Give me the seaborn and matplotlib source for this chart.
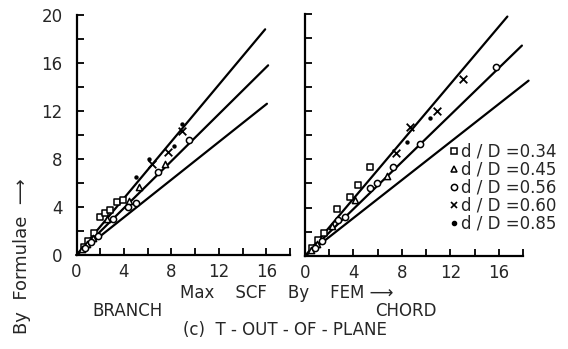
import numpy as np
import pandas as pd
import matplotlib
matplotlib.use("Agg")
import matplotlib.pyplot as plt
from matplotlib.lines import Line2D
import seaborn as sns

# series labels (d/D) and marker glyphs
ratios = ["0.34", "0.45", "0.56", "0.60", "0.85"]
markers = ["s", "^", "o", "x", "."]

# BRANCH panel: (Max SCF by FEM, by formulae)
branch_x = {
    "0.34": [0.6, 1.0, 1.5, 2.0, 2.4, 2.8, 3.4, 3.9],
    "0.45": [0.5, 0.9, 1.4, 2.6, 4.4, 5.3, 7.5],
    "0.56": [0.7, 1.2, 1.8, 3.1, 4.3, 5.0, 6.9, 9.5],
    "0.60": [6.4, 7.7, 8.9],
    "0.85": [5.0, 6.1, 8.2, 8.9],
}
branch_y = {
    "0.34": [0.7, 1.2, 1.8, 3.2, 3.5, 3.75, 4.4, 4.6],
    "0.45": [0.5, 0.9, 1.4, 3.0, 4.5, 5.7, 7.6],
    "0.56": [0.6, 1.1, 1.6, 3.0, 4.0, 4.3, 6.9, 9.6],
    "0.60": [7.6, 8.6, 10.3],
    "0.85": [6.5, 8.0, 9.1, 10.9],
}

# CHORD panel
chord_x = {
    "0.34": [0.6, 1.1, 1.6, 2.6, 3.7, 4.4, 5.4],
    "0.45": [0.5, 1.0, 2.2, 4.1, 6.75],
    "0.56": [0.8, 1.4, 2.75, 3.3, 5.4, 5.9, 7.3, 9.45, 15.8],
    "0.60": [7.5, 8.7, 10.9, 13.0],
    "0.85": [8.4, 10.3],
}
chord_y = {
    "0.34": [0.7, 1.3, 1.9, 3.9, 4.9, 5.9, 7.4],
    "0.45": [0.5, 1.0, 2.5, 4.6, 6.6],
    "0.56": [0.7, 1.2, 3.0, 3.25, 5.6, 6.0, 7.4, 9.3, 15.6],
    "0.60": [8.5, 10.7, 12.0, 14.6],
    "0.85": [9.45, 11.4],
}

# reference lines from origin (+20%, exact, -20%): end points
branch_line_x = [15.9, 16.15, 16.05]
branch_line_y = [18.8, 15.8, 12.6]
chord_line_x = [16.7, 17.9, 18.45]
chord_line_y = [19.8, 17.4, 14.5]

sns.set_theme(style="ticks")
plt.rcParams["font.family"] = ["DejaVu Sans"]

fig = plt.figure(figsize=(5.68, 3.49), dpi=100)
ax1 = fig.add_axes([0.1347, 0.2693, 0.376, 0.688])
ax2 = fig.add_axes([0.537, 0.2665, 0.384, 0.693])


def draw_panel(ax, xs, ys, lx, ly, show_ylabels):
    for xe, ye in zip(lx, ly):
        d = pd.DataFrame({"x": [0, xe], "y": [0, ye]})
        sns.lineplot(data=d, x="x", y="y", ax=ax, color="black", lw=1.6,
                     clip_on=False)
    for r, m in zip(ratios, markers):
        d = pd.DataFrame({"x": xs[r], "y": ys[r]})
        if m == "x":
            sns.scatterplot(data=d, x="x", y="y", ax=ax, marker="x", s=30,
                            color="black", linewidth=1.3, zorder=3)
        elif m == ".":
            sns.scatterplot(data=d, x="x", y="y", ax=ax, marker="o", s=10,
                            color="black", linewidth=0, zorder=3)
        else:
            sns.scatterplot(data=d, x="x", y="y", ax=ax, marker=m, s=20,
                            facecolor="white", edgecolor="black",
                            linewidth=1.1, zorder=3)
    ax.set_xlim(0, 18)
    ax.set_ylim(0, 20)
    ax.set_xticks([0, 4, 8, 12, 16])
    ax.set_xticks([2, 6, 10, 14, 18], minor=True)
    ax.set_yticks([0, 4, 8, 12, 16, 20])
    ax.set_yticks([2, 6, 10, 14, 18], minor=True)
    ax.tick_params(which="both", direction="in", length=5, width=1.3,
                   color="black", labelsize=12)
    ax.tick_params(axis="x", pad=6)
    ax.tick_params(axis="y", pad=10)
    if not show_ylabels:
        ax.set_yticklabels([])
    ax.set_xlabel("")
    ax.set_ylabel("")
    sns.despine(ax=ax)
    for s in ["left", "bottom"]:
        ax.spines[s].set_linewidth(1.6)
        ax.spines[s].set_color("black")


draw_panel(ax1, branch_x, branch_y, branch_line_x, branch_line_y, True)
draw_panel(ax2, chord_x, chord_y, chord_line_x, chord_line_y, False)

# legend
handles = []
for r, m in zip(ratios, markers):
    if m == "x":
        h = Line2D([], [], ls="", marker="x", ms=5, color="black", mew=1.2)
    elif m == ".":
        h = Line2D([], [], ls="", marker="o", ms=3, color="black")
    else:
        h = Line2D([], [], ls="", marker=m, ms=4.5, mfc="white",
                   mec="black", mew=1.1)
    handles.append(h)
labels = ["d / D =" + r for r in ratios]
fig.legend(handles, labels, loc="upper left", bbox_to_anchor=(0.792, 0.592),
           frameon=False, fontsize=12, handlelength=0.5, handletextpad=0.15,
           labelspacing=0.0, borderpad=0, borderaxespad=0)

# texts
fig.text(0.505, 1 - 293 / 349, "Max    SCF    By    FEM \u27f6", ha="center",
         va="center", fontsize=12)
fig.text(127 / 568, 1 - 311 / 349, "BRANCH", ha="center", va="center",
         fontsize=12)
fig.text(406 / 568, 1 - 311 / 349, "CHORD", ha="center", va="center",
         fontsize=12)
fig.text(285 / 568, 1 - 330 / 349, "(c)  T - OUT - OF - PLANE", ha="center",
         va="center", fontsize=12)
fig.text(22 / 568, 1 - 256 / 349, "By  Formulae  \u27f6", rotation=90,
         ha="center", va="center", fontsize=13)

fig.savefig("out.png", dpi=100)
